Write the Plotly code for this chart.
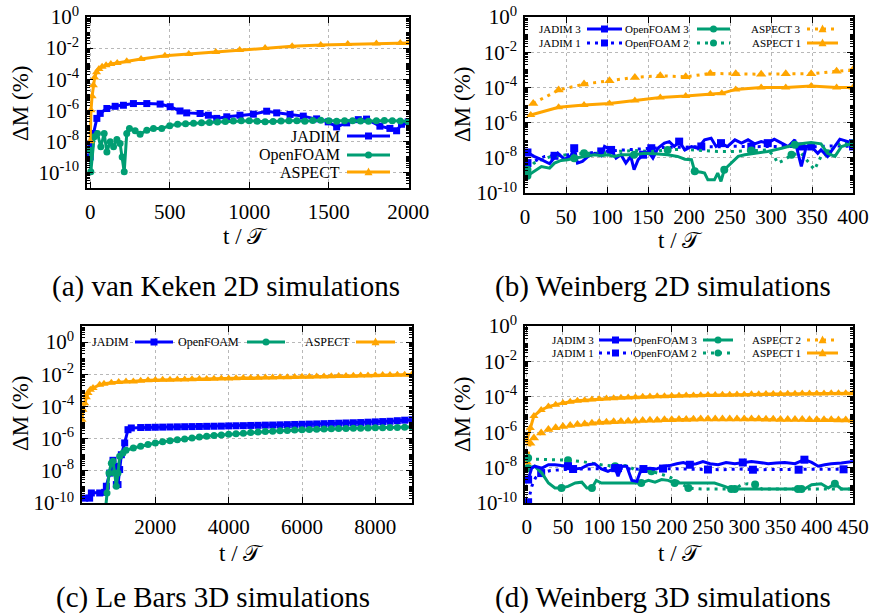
import plotly.graph_objects as go

# ---------------- data ----------------
# (a) van Keken 2D
a_aspect_t = [0, 5, 12, 20, 28, 40, 55, 75, 100, 130, 170, 230, 320, 470, 620, 790, 940, 1100, 1270, 1450, 1620, 1800, 1950, 2000]
a_aspect_v = [1e-8, 1e-6, 7.9e-6, 4e-5, 1.26e-4, 2.8e-4, 4.5e-4, 6.3e-4, 8e-4, 9.5e-4, 1.1e-3, 1.4e-3, 2e-3, 3.2e-3, 4.2e-3, 5.6e-3, 7.4e-3, 1e-2, 1.3e-2, 1.6e-2, 1.8e-2, 1.95e-2, 2.1e-2, 2.1e-2]
a_jadim_t = [0, 4, 21, 42, 63, 105, 157, 209, 272, 356, 440, 503, 565, 607, 691, 743, 796, 859, 942, 1026, 1110, 1173, 1257, 1340, 1424, 1497, 1550, 1613, 1686, 1738, 1822, 1885, 1927, 1958, 2000]
a_jadim_v = [1e-9, 7e-9, 3.2e-8, 3e-7, 6.3e-7, 1.3e-6, 1.8e-6, 2.1e-6, 2.7e-6, 2.7e-6, 2.5e-6, 1.7e-6, 9e-7, 6.8e-7, 6.2e-7, 4.8e-7, 3e-7, 3.8e-7, 4.8e-7, 5.6e-7, 8.7e-7, 6.8e-7, 5.4e-7, 4.2e-7, 2.8e-7, 1.8e-7, 8.5e-8, 1.55e-7, 2.5e-7, 2.7e-7, 9.5e-8, 6.8e-8, 4.8e-8, 1.26e-7, 1.8e-7]
a_ofoam_t = [0, 4, 25, 46, 67, 88, 105, 126, 147, 168, 188, 201, 214, 230, 247, 283, 314, 356, 398, 450, 500, 550, 600, 650, 700, 750, 800, 850, 900, 950, 1000, 1050, 1100, 1150, 1200, 1250, 1300, 1350, 1400, 1450, 1500, 1550, 1600, 1650, 1700, 1750, 1800, 1850, 1900, 1950, 2000]
a_ofoam_v = [2.7e-9, 1.1e-10, 2e-8, 3.2e-8, 4.5e-9, 3.2e-8, 2.1e-9, 9.3e-9, 4.5e-9, 1.3e-8, 7.2e-9, 1e-9, 1.1e-10, 3.2e-8, 6.7e-8, 4.8e-8, 2.9e-8, 5.2e-8, 6.7e-8, 6.7e-8, 1.0e-7, 1.26e-7, 1.38e-7, 1.45e-7, 1.55e-7, 1.66e-7, 1.78e-7, 1.9e-7, 2.04e-7, 2.1e-7, 2.1e-7, 2.0e-7, 1.8e-7, 1.9e-7, 2.05e-7, 2.15e-7, 2.1e-7, 2.0e-7, 2.2e-7, 2.3e-7, 2.1e-7, 2.0e-7, 2.1e-7, 2.15e-7, 2.05e-7, 2.0e-7, 2.1e-7, 2.2e-7, 2.1e-7, 2.05e-7, 1.9e-7]

# (b) Weinberg 2D
b_asp3_t = [10, 41, 72, 103, 134, 165, 196, 226, 257, 288, 318, 349, 380, 400]
b_asp3_v = [1.23e-5, 7.1e-5, 1.55e-4, 2.4e-4, 3.7e-4, 4.6e-4, 4e-4, 6.2e-4, 5.9e-4, 5.6e-4, 5.9e-4, 5.9e-4, 8.3e-4, 1e-3]
b_asp1_t = [7, 41, 72, 103, 134, 165, 196, 226, 240, 257, 288, 318, 349, 380, 400]
b_asp1_v = [2.7e-6, 7.4e-6, 1e-5, 1.23e-5, 1.8e-5, 2.7e-5, 3.2e-5, 4.2e-5, 4.6e-5, 7.7e-5, 1e-4, 1e-4, 1.2e-4, 1e-4, 1e-4]
b_jad3_t = [3, 11, 20, 30, 40, 48, 56, 60, 64, 70, 77, 85, 93, 97, 105, 111, 117, 123, 129, 133, 138, 144, 150, 156, 162, 170, 176, 182, 188, 195, 203, 211, 219, 227, 233, 239, 247, 256, 264, 272, 280, 288, 296, 304, 313, 321, 329, 337, 343, 349, 357, 361, 369, 378, 384, 394, 400]
b_jad3_v = [2e-8, 1.2e-8, 7.8e-9, 4.6e-9, 1.8e-8, 8.3e-9, 1.3e-8, 3.5e-8, 5e-9, 6.2e-9, 1.2e-8, 1.8e-8, 1.3e-8, 4.4e-8, 2.8e-8, 9.5e-9, 1.5e-8, 5e-9, 1.2e-8, 2.1e-9, 7.8e-9, 1.5e-8, 2.3e-8, 9.5e-9, 3.5e-8, 6.8e-8, 8.3e-8, 4.4e-8, 8.3e-8, 2.8e-8, 4.4e-8, 3.5e-8, 1.05e-7, 1.3e-7, 4.4e-8, 6.8e-8, 4.4e-8, 1.05e-7, 6.8e-8, 1.05e-7, 6.2e-8, 8.3e-8, 6.8e-8, 1.15e-7, 6.8e-8, 4.4e-8, 1.05e-7, 3.2e-9, 4.4e-8, 4.4e-8, 1.8e-8, 2.8e-8, 1.2e-8, 4.4e-8, 1.15e-7, 8.3e-8, 6.8e-8]
b_jad1_t = [3, 11, 24, 36, 52, 73, 93, 113, 134, 154, 174, 195, 215, 235, 256, 276, 296, 317, 337, 357, 378, 400]
b_jad1_v = [5e-9, 6.2e-9, 1.2e-8, 1.3e-8, 1.5e-8, 1.7e-8, 2.3e-8, 2.6e-8, 3.1e-8, 3.5e-8, 4e-8, 4e-8, 4.4e-8, 4.2e-8, 4.5e-8, 4.3e-8, 4.4e-8, 4.6e-8, 4.4e-8, 4.3e-8, 4.8e-8, 4.4e-8]
b_of3_t = [3, 11, 20, 30, 36, 44, 52, 60, 72, 85, 93, 101, 109, 117, 133, 146, 158, 174, 186, 195, 203, 207, 215, 219, 223, 231, 235, 239, 243, 251, 260, 268, 280, 296, 313, 329, 341, 349, 361, 369, 378, 386, 400]
b_of3_v = [9.5e-10, 1.7e-9, 3.2e-9, 2.6e-9, 5e-9, 7.1e-9, 7.8e-9, 9.5e-9, 1.2e-8, 1.5e-8, 1.3e-8, 1.5e-8, 1.2e-8, 1.5e-8, 1.5e-8, 1.8e-8, 1.7e-8, 1.5e-8, 1.2e-8, 8.3e-9, 7.8e-9, 1.7e-9, 1.5e-9, 1.35e-9, 5.6e-10, 5.6e-10, 1.35e-9, 4.6e-10, 2.1e-9, 5e-9, 1.2e-8, 1.5e-8, 1.8e-8, 2.3e-8, 3.5e-8, 5.5e-8, 6.8e-8, 7.4e-8, 6.2e-8, 1.8e-8, 1.2e-8, 4.4e-8, 6.8e-8]
b_of2_t = [3, 11, 20, 32, 52, 72, 93, 113, 133, 154, 174, 195, 215, 235, 256, 276, 296, 304, 308, 317, 325, 337, 349, 353, 361, 369, 378, 386, 400]
b_of2_v = [2.1e-9, 5e-9, 7.8e-9, 1.2e-8, 1.5e-8, 1.8e-8, 1.8e-8, 2.3e-8, 2.6e-8, 2.3e-8, 2.8e-8, 3.1e-8, 2.6e-8, 2.3e-8, 2.3e-8, 2.6e-8, 2.8e-8, 1.2e-8, 5e-9, 7.8e-9, 1.5e-8, 1.8e-8, 3.2e-9, 2.1e-9, 1.2e-8, 1.8e-8, 4.4e-8, 7.4e-8, 6.2e-8]

# (c) Le Bars 3D
c_aspect_t = [0, 27, 73, 118, 164, 227, 300, 482, 600, 800, 1000, 1200, 1400, 1600, 1800, 2000, 2200, 2400, 2600, 2800, 3000, 3200, 3400, 3600, 3800, 4000, 4200, 4400, 4600, 4800, 5000, 5200, 5400, 5600, 5800, 6000, 6200, 6400, 6600, 6800, 7000, 7200, 7400, 7600, 7800, 8000, 8200, 8400, 8600, 8800, 9000]
c_aspect_v = [1.5e-5, 6.3e-5, 1.6e-4, 3.8e-4, 6.8e-4, 1.1e-3, 1.4e-3, 2.2e-3, 2.6e-3, 3.0e-3, 3.3e-3, 3.5e-3, 3.6e-3, 4.0e-3, 4.2e-3, 4.4e-3, 4.5e-3, 4.6e-3, 4.7e-3, 4.8e-3, 4.9e-3, 5.0e-3, 5.1e-3, 5.2e-3, 5.4e-3, 5.5e-3, 5.6e-3, 5.8e-3, 5.9e-3, 6.0e-3, 6.2e-3, 6.3e-3, 6.5e-3, 6.6e-3, 6.8e-3, 6.9e-3, 7.1e-3, 7.2e-3, 7.4e-3, 7.6e-3, 7.8e-3, 7.9e-3, 8.1e-3, 8.3e-3, 8.5e-3, 8.7e-3, 8.9e-3, 9.1e-3, 9.3e-3, 9.5e-3, 9.8e-3]
c_jadim_t = [73, 209, 255, 482, 618, 664, 755, 845, 891, 936, 982, 1027, 1073, 1164, 1254, 1345, 1600, 1800, 2000, 2200, 2400, 2600, 2800, 3000, 3200, 3400, 3600, 3800, 4000, 4200, 4400, 4600, 4800, 5000, 5200, 5400, 5600, 5800, 6000, 6200, 6400, 6600, 6800, 7000, 7200, 7400, 7600, 7800, 8000, 8200, 8400, 8600, 8800, 9000]
c_jadim_v = [2e-10, 2e-10, 4.2e-10, 4.2e-10, 4.6e-10, 1.1e-9, 7.2e-9, 4.5e-8, 1.9e-8, 1.4e-9, 1.4e-9, 1.2e-8, 1e-7, 5.4e-7, 3.6e-6, 4.6e-6, 4.9e-6, 5.0e-6, 5.1e-6, 5.2e-6, 5.3e-6, 5.4e-6, 5.5e-6, 5.6e-6, 5.7e-6, 5.8e-6, 5.9e-6, 6.0e-6, 6.2e-6, 6.3e-6, 6.4e-6, 6.6e-6, 6.7e-6, 6.9e-6, 7.0e-6, 7.2e-6, 7.4e-6, 7.6e-6, 7.8e-6, 8.0e-6, 8.2e-6, 8.5e-6, 8.8e-6, 9.1e-6, 9.4e-6, 9.7e-6, 1.0e-5, 1.05e-5, 1.1e-5, 1.15e-5, 1.2e-5, 1.3e-5, 1.4e-5, 1.5e-5]
c_ofoam_t = [645, 682, 736, 800, 845, 891, 936, 982, 1027, 1118, 1200, 1400, 1600, 1800, 2000, 2200, 2400, 2600, 2800, 3000, 3200, 3400, 3600, 3800, 4000, 4200, 4400, 4600, 4800, 5000, 5200, 5400, 5600, 5800, 6000, 6200, 6400, 6600, 6800, 7000, 7200, 7400, 7600, 7800, 8000, 8200, 8400, 8600, 8800, 9000]
c_ofoam_v = [5e-11, 4.2e-10, 7.2e-9, 3e-8, 3.9e-8, 7.2e-9, 1.1e-9, 7.2e-9, 7.9e-8, 1.3e-7, 1.9e-7, 2.6e-7, 3.4e-7, 4.3e-7, 5.3e-7, 6.3e-7, 7.3e-7, 8.4e-7, 9.6e-7, 1.1e-6, 1.25e-6, 1.4e-6, 1.55e-6, 1.7e-6, 1.85e-6, 2.0e-6, 2.2e-6, 2.4e-6, 2.6e-6, 2.75e-6, 2.9e-6, 3.1e-6, 3.25e-6, 3.4e-6, 3.55e-6, 3.7e-6, 3.85e-6, 4.0e-6, 4.1e-6, 4.2e-6, 4.3e-6, 4.4e-6, 4.5e-6, 4.6e-6, 4.7e-6, 4.8e-6, 4.9e-6, 5.0e-6, 5.1e-6, 5.2e-6]

# (d) Weinberg 3D
d_asp1_t = [0, 5, 10, 20, 30, 40, 50, 60, 70, 80, 90, 100, 110, 120, 130, 140, 150, 160, 170, 180, 190, 200, 210, 220, 230, 240, 250, 260, 270, 280, 290, 300, 310, 320, 330, 340, 350, 360, 370, 380, 390, 400, 410, 420, 430, 440, 450]
d_asp1_v = [3.3e-7, 1.7e-6, 8.3e-6, 1.8e-5, 2.8e-5, 3.6e-5, 4.4e-5, 5.2e-5, 5.9e-5, 6.4e-5, 7.1e-5, 7.6e-5, 7.9e-5, 8.3e-5, 8.7e-5, 9.1e-5, 9.5e-5, 1e-4, 1.05e-4, 1.07e-4, 1.08e-4, 1.12e-4, 1.14e-4, 1.17e-4, 1.2e-4, 1.22e-4, 1.25e-4, 1.28e-4, 1.3e-4, 1.32e-4, 1.34e-4, 1.36e-4, 1.38e-4, 1.4e-4, 1.42e-4, 1.44e-4, 1.46e-4, 1.48e-4, 1.5e-4, 1.52e-4, 1.54e-4, 1.55e-4, 1.56e-4, 1.57e-4, 1.58e-4, 1.59e-4, 1.6e-4]
d_asp2_t = [0, 5, 10, 20, 30, 40, 50, 60, 70, 80, 90, 100, 110, 120, 130, 140, 150, 160, 170, 180, 190, 200, 210, 220, 230, 240, 250, 260, 270, 280, 290, 300, 310, 320, 330, 340, 350, 360, 370, 380, 390, 400, 410, 420, 430, 440, 450]
d_asp2_v = [2e-8, 2.4e-7, 4.7e-7, 8.9e-7, 1.4e-6, 1.8e-6, 2.1e-6, 2.4e-6, 2.7e-6, 2.95e-6, 3.2e-6, 3.5e-6, 3.7e-6, 3.9e-6, 4.0e-6, 4.2e-6, 4.3e-6, 4.6e-6, 4.7e-6, 4.8e-6, 5.0e-6, 5.1e-6, 5.2e-6, 5.3e-6, 5.4e-6, 5.5e-6, 5.5e-6, 5.6e-6, 5.6e-6, 5.6e-6, 5.6e-6, 5.6e-6, 5.5e-6, 5.5e-6, 5.4e-6, 5.4e-6, 5.3e-6, 5.3e-6, 5.2e-6, 5.2e-6, 5.1e-6, 5.1e-6, 5.0e-6, 5.0e-6, 4.9e-6, 4.9e-6, 4.8e-6]
d_jad3_t = [2, 7, 11, 21, 30, 39, 48, 57, 67, 76, 85, 94, 103, 112, 122, 126, 131, 138, 145, 152, 156, 161, 170, 179, 188, 197, 207, 216, 225, 234, 243, 253, 264, 275, 287, 298, 310, 321, 333, 344, 356, 370, 383, 393, 402, 411, 420, 434, 450]
d_jad3_v = [2.1e-9, 9.3e-9, 1.2e-8, 9.3e-9, 1.45e-8, 1.45e-8, 1.3e-8, 1.2e-8, 8.3e-9, 9.3e-9, 1.45e-8, 1.65e-8, 8.3e-9, 6.2e-9, 9.3e-9, 3.2e-9, 1.2e-8, 1.2e-8, 1.9e-9, 1.7e-9, 4.9e-9, 8.3e-9, 9.3e-9, 8.3e-9, 1.2e-8, 1.3e-8, 1.65e-8, 1.95e-8, 1.45e-8, 1.65e-8, 2.2e-8, 1.65e-8, 1.45e-8, 1.95e-8, 1.65e-8, 1.95e-8, 2.2e-8, 1.95e-8, 1.65e-8, 1.8e-8, 1.95e-8, 1.65e-8, 2.8e-8, 1.95e-8, 1.2e-8, 1.45e-8, 1.65e-8, 1.8e-8, 2.2e-8]
d_jad1_t = [2, 7, 12, 20, 33, 45, 64, 85, 105, 126, 147, 168, 188, 209, 230, 250, 271, 292, 312, 333, 354, 375, 395, 416, 437, 450]
d_jad1_v = [1.1e-10, 8.7e-10, 2.6e-9, 4.9e-9, 6.9e-9, 7.6e-9, 8.3e-9, 8.3e-9, 8.5e-9, 9.3e-9, 8.3e-9, 8.0e-9, 8.8e-9, 8.3e-9, 7.6e-9, 7.8e-9, 7.6e-9, 8.3e-9, 7.6e-9, 7.6e-9, 7.8e-9, 7.6e-9, 8.3e-9, 7.6e-9, 8.0e-9, 8.3e-9]
d_of3_t = [2, 11, 21, 30, 39, 48, 57, 67, 76, 83, 90, 96, 103, 122, 140, 158, 168, 177, 186, 195, 204, 223, 241, 259, 273, 282, 301, 319, 337, 356, 374, 383, 393, 406, 416, 425, 434, 450]
d_of3_v = [9.3e-9, 1.2e-8, 4.9e-9, 1.35e-9, 7e-10, 7e-10, 8.7e-10, 1.35e-9, 1.5e-9, 7e-10, 7e-10, 1.9e-9, 1.35e-9, 1.35e-9, 1.35e-9, 1.35e-9, 1.9e-9, 1.5e-9, 2.1e-9, 1.9e-9, 1.35e-9, 1.35e-9, 1.35e-9, 1.35e-9, 8.7e-10, 6.2e-10, 6.2e-10, 6.2e-10, 6.2e-10, 6.2e-10, 6.2e-10, 6.2e-10, 1.07e-9, 1.23e-9, 7e-10, 1.23e-9, 6.2e-10, 6.2e-10]
d_of2_t = [2, 11, 34, 57, 76, 103, 122, 138, 149, 172, 195, 204, 223, 241, 264, 287, 296, 305, 315, 324, 356, 379, 402, 450]
d_of2_v = [3.5e-8, 3e-8, 2.8e-8, 2.6e-8, 2.2e-8, 1.45e-8, 1.2e-8, 1.3e-8, 7.6e-9, 6.2e-9, 3.2e-9, 2.1e-9, 7e-10, 6.2e-10, 6.2e-10, 6.2e-10, 1.07e-9, 1.23e-9, 1.1e-9, 6.2e-10, 6.2e-10, 6.2e-10, 6.2e-10, 6.2e-10]

y_tickvals = [1, 1e-2, 1e-4, 1e-6, 1e-8, 1e-10]
y_ticktext = ["10<sup>0</sup>", "10<sup>-2</sup>", "10<sup>-4</sup>", "10<sup>-6</sup>", "10<sup>-8</sup>", "10<sup>-10</sup>"]
captions = ["(a) van Keken 2D simulations", "(b) Weinberg 2D simulations",
            "(c) Le Bars 3D simulations", "(d) Weinberg 3D simulations"]

# ---------------- styling ----------------
W, H = 870, 613
BLUE, GREEN, ORANGE = "#0000ff", "#009e73", "#ffa500"
SERIF = "Liberation Serif"
DOT = "3px,5px"

def px(x):
    return x / W

def py(y):
    return 1 - y / H

fig = go.Figure()

# panel frames in screen pixel coordinates: (left, right, top, bottom)
panels = {
    "a": dict(ax="", box=(87, 409, 17, 188), xr=[-20, 2005], yr=[-11, 0], xt=[0, 500, 1000, 1500, 2000]),
    "b": dict(ax="2", box=(525, 853, 17, 193), xr=[0, 400], yr=[-10, 0], xt=list(range(0, 401, 50))),
    "c": dict(ax="3", box=(82, 412, 326, 503), xr=[0, 9000], yr=[-10, 1], xt=[2000, 4000, 6000, 8000]),
    "d": dict(ax="4", box=(525, 853, 326, 503), xr=[-2.3, 450], yr=[-10, 0], xt=list(range(0, 451, 50))),
}

axis_common = dict(showline=True, linecolor="black", linewidth=1.5, mirror="allticks",
                   ticks="inside", ticklen=6, tickwidth=1, tickcolor="black",
                   showgrid=True, gridcolor="#b8b8b8", griddash="dot", gridwidth=1,
                   zeroline=False, automargin=False, ticklabeloverflow="allow",
                   tickfont=dict(family=SERIF, size=21, color="black"))

layout = {}
for k, p in panels.items():
    l, r, t, b = p["box"]
    xa = "xaxis" + p["ax"]
    ya = "yaxis" + p["ax"]
    layout[xa] = dict(axis_common, domain=[px(l), px(r)], range=p["xr"], tickvals=p["xt"],
                      anchor="y" + p["ax"], ticklabelstandoff=4)
    layout[ya] = dict(axis_common, domain=[py(b), py(t)], type="log", range=p["yr"],
                      tickvals=y_tickvals, ticktext=y_ticktext, anchor="x" + p["ax"],
                      ticklabelstandoff=2,
                      minor=dict(ticks="inside", ticklen=3, dtick="D1", showgrid=False, tickcolor="black"))

def series(pkey, t, v, color, dash, symbol, stride, msize):
    a = panels[pkey]["ax"]
    fig.add_trace(go.Scatter(x=t, y=v, mode="lines", line=dict(color=color, width=3, dash=dash),
                             xaxis="x" + a, yaxis="y" + a, showlegend=False, hoverinfo="skip"))
    fig.add_trace(go.Scatter(x=t[::stride], y=v[::stride], mode="markers",
                             marker=dict(symbol=symbol, size=msize, color=color),
                             xaxis="x" + a, yaxis="y" + a, showlegend=False, hoverinfo="skip"))

# (a)
series("a", a_jadim_t, a_jadim_v, BLUE, "solid", "square", 1, 7)
series("a", a_ofoam_t, a_ofoam_v, GREEN, "solid", "circle", 1, 7)
series("a", a_aspect_t, a_aspect_v, ORANGE, "solid", "triangle-up", 1, 8)
# (b)
series("b", b_jad1_t, b_jad1_v, BLUE, DOT, "square", 3, 8)
series("b", b_of2_t, b_of2_v, GREEN, DOT, "circle", 5, 8)
series("b", b_asp3_t, b_asp3_v, ORANGE, DOT, "triangle-up", 1, 9)
series("b", b_asp1_t, b_asp1_v, ORANGE, "solid", "triangle-up", 1, 8)
series("b", b_jad3_t, b_jad3_v, BLUE, "solid", "square", 7, 8)
series("b", b_of3_t, b_of3_v, GREEN, "solid", "circle", 7, 8)
# (c)
series("c", c_aspect_t, c_aspect_v, ORANGE, "solid", "triangle-up", 1, 8)
series("c", c_jadim_t, c_jadim_v, BLUE, "solid", "square", 1, 7)
series("c", c_ofoam_t, c_ofoam_v, GREEN, "solid", "circle", 1, 7)
# (d)
series("d", d_asp1_t, d_asp1_v, ORANGE, "solid", "triangle-up", 1, 8)
series("d", d_asp2_t, d_asp2_v, ORANGE, DOT, "triangle-up", 1, 9)
series("d", d_of2_t, d_of2_v, GREEN, DOT, "circle", 3, 8)
series("d", d_jad1_t, d_jad1_v, BLUE, DOT, "square", 3, 8)
series("d", d_of3_t, d_of3_v, GREEN, "solid", "circle", 5, 8)
series("d", d_jad3_t, d_jad3_v, BLUE, "solid", "square", 7, 8)

shapes = []
annotations = []

def legend_entry(text, color, dash, symbol, tx, y, s0, s1, fsize, msize):
    annotations.append(dict(text=text, x=px(tx), y=py(y), xref="paper", yref="paper",
                            xanchor="right", yanchor="middle", showarrow=False,
                            font=dict(family=SERIF, size=fsize, color="black")))
    shapes.append(dict(type="line", xref="paper", yref="paper", x0=px(s0), x1=px(s1),
                       y0=py(y), y1=py(y), line=dict(color=color, width=3, dash=dash)))
    cx = (s0 + s1) / 2
    h = msize / 2
    if symbol == "square":
        shapes.append(dict(type="rect", xref="paper", yref="paper", x0=px(cx - h), x1=px(cx + h),
                           y0=py(y + h), y1=py(y - h), fillcolor=color, line=dict(width=0)))
    elif symbol == "circle":
        shapes.append(dict(type="circle", xref="paper", yref="paper", x0=px(cx - h), x1=px(cx + h),
                           y0=py(y + h), y1=py(y - h), fillcolor=color, line=dict(width=0)))
    else:
        path = "M %f,%f L %f,%f L %f,%f Z" % (px(cx - h), py(y + h * 0.8), px(cx + h), py(y + h * 0.8),
                                              px(cx), py(y - h * 1.1))
        shapes.append(dict(type="path", xref="paper", yref="paper", path=path,
                           fillcolor=color, line=dict(width=0)))

# legends
legend_entry("JADIM", BLUE, "solid", "square", 342, 136, 347, 390, 16, 7)
legend_entry("OpenFOAM", GREEN, "solid", "circle", 342, 155, 347, 390, 16, 7)
legend_entry("ASPECT", ORANGE, "solid", "triangle", 342, 172, 347, 390, 16, 8)

LF = 11
legend_entry("JADIM 3", BLUE, "solid", "square", 583, 29, 587, 622, LF, 7)
legend_entry("JADIM 1", BLUE, DOT, "square", 583, 43, 587, 622, LF, 7)
legend_entry("OpenFOAM 3", GREEN, "solid", "circle", 691, 29, 697, 730, LF, 7)
legend_entry("OpenFOAM 2", GREEN, DOT, "circle", 691, 43, 697, 730, LF, 7)
legend_entry("ASPECT 3", ORANGE, DOT, "triangle", 803, 29, 807, 838, LF, 8)
legend_entry("ASPECT 1", ORANGE, "solid", "triangle", 803, 43, 807, 838, LF, 8)

legend_entry("JADIM", BLUE, "solid", "square", 131, 342, 135, 173, 12, 7)
legend_entry("OpenFOAM", GREEN, "solid", "circle", 241, 342, 247, 285, 12, 7)
legend_entry("ASPECT", ORANGE, "solid", "triangle", 352, 342, 356, 395, 12, 8)

legend_entry("JADIM 3", BLUE, "solid", "square", 596, 340, 599, 632, LF, 7)
legend_entry("JADIM 1", BLUE, DOT, "square", 596, 353, 599, 632, LF, 7)
legend_entry("OpenFOAM 3", GREEN, "solid", "circle", 699, 340, 703, 733, LF, 7)
legend_entry("OpenFOAM 2", GREEN, DOT, "circle", 699, 353, 703, 733, LF, 7)
legend_entry("ASPECT 2", ORANGE, DOT, "triangle", 803, 340, 807, 838, LF, 8)
legend_entry("ASPECT 1", ORANGE, "solid", "triangle", 803, 353, 807, 838, LF, 8)

# axis titles and captions
def label(text, x, y, size, angle=0):
    annotations.append(dict(text=text, x=px(x), y=py(y), xref="paper", yref="paper",
                            xanchor="center", yanchor="middle", showarrow=False, textangle=angle,
                            font=dict(family=SERIF, size=size, color="black")))

for (ylx, yly, xlx, xly) in [(20, 104, 245, 236), (462, 104, 680, 240), (20, 414, 242, 553), (462, 414, 680, 553)]:
    label("ΔM (%)", ylx, yly, 23, -90)
    label("t / 𝒯", xlx, xly, 23)

label(captions[0], 226, 287, 29)
label(captions[1], 663, 287, 29)
label(captions[2], 213, 597, 29)
label(captions[3], 663, 597, 29)

fig.update_layout(width=W, height=H, margin=dict(l=0, r=0, t=0, b=0),
                  paper_bgcolor="white", plot_bgcolor="white", showlegend=False,
                  hovermode=False,
                  shapes=shapes, annotations=annotations, **layout)

# remove the page's default body margin so the 870x613 figure fills the window exactly
fig.write_html("out.html", config={"displayModeBar": False},
               post_script="document.body.style.margin='0px';")
